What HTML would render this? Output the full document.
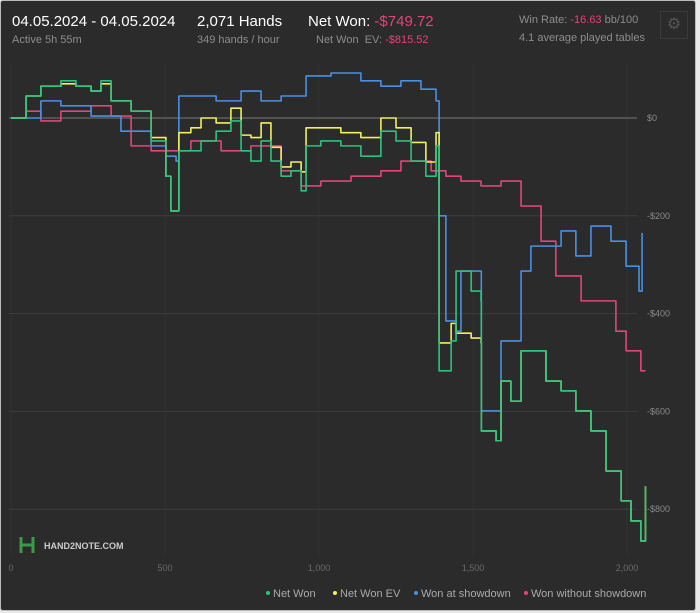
<!DOCTYPE html>
<html><head><meta charset="utf-8"><style>
body{margin:0;background:#e9e9e9;font-family:"Liberation Sans",sans-serif;}
#card{position:absolute;left:0;top:0;width:694px;height:609px;background:#2b2b2b;border:1px solid #bbb;border-radius:3px;overflow:hidden}
.t{position:absolute;white-space:nowrap}
.big{font-size:15px;color:#fff}
.sm{font-size:11px;color:#8d8d8d}
.red{color:#e0457b}
</style></head><body>
<div id="card">
<div class="t big" style="left:11px;top:12px">04.05.2024 - 04.05.2024</div>
<div class="t sm" style="left:11px;top:33px">Active 5h 55m</div>
<div class="t big" style="left:196px;top:12px">2,071 Hands</div>
<div class="t sm" style="left:196px;top:33px">349 hands / hour</div>
<div class="t big" style="left:307px;top:12px">Net Won: <span class="red">-$749.72</span></div>
<div class="t sm" style="left:315px;top:33px">Net Won&nbsp; EV: <span class="red">-$815.52</span></div>
<div class="t sm" style="left:518px;top:13px">Win Rate: <span class="red">-16.63</span> bb/100</div>
<div class="t sm" style="left:518px;top:31px">4.1 average played tables</div>
<div class="t" style="left:659px;top:10px;width:26px;height:26px;border:1px solid #3a3a3a;color:#555;font-size:16px;text-align:center;line-height:26px">⚙</div>
<svg id="ch" width="694" height="609" style="position:absolute;left:0;top:0"></svg>
</div>
<script>
const xTicks=[0,500,1000,1500,2000];
const yTicks=[0,-200,-400,-600,-800];
const netWonH=[0,49,97,162,211,260,292,325,390,455,503,519,542,545,584,617,666,714,747,779,812,844,877,909,942,958,1006,1071,1136,1201,1250,1299,1347,1380,1390,1429,1445,1494,1526,1527,1575,1591,1623,1656,1688,1737,1786,1834,1883,1932,1981,2013,2045,2060];
const netWonV=[0,45,65,76,65,55,76,35,14,-47,-119,-190,-190,-67,-67,-47,-27,-6,-67,-88,-47,-88,-119,-108,-149,-57,-47,-57,-78,-27,-47,-88,-119,-57,-517,-456,-313,-354,-374,-640,-660,-538,-579,-476,-476,-538,-558,-599,-640,-722,-783,-824,-865,-753];
const evH=[0,49,97,162,211,260,292,325,390,455,503,519,542,545,584,617,666,714,747,779,812,844,877,909,942,958,1006,1071,1136,1201,1250,1299,1347,1380,1390,1429,1445,1494,1526,1527,1575,1591,1623,1656,1688,1737,1786,1834,1883,1932,1981,2013,2045,2060];
const evV=[0,45,65,70,65,55,70,35,14,-40,-119,-190,-190,-30,-20,0,-10,20,-35,-40,-10,-60,-100,-90,-110,-20,-20,-30,-40,0,-20,-50,-90,-30,-460,-420,-440,-450,-460,-640,-660,-538,-579,-476,-476,-538,-558,-599,-640,-722,-783,-824,-865,-753];
const sdH=[0,97,162,260,357,455,503,536,545,617,666,747,812,877,942,958,1039,1136,1201,1266,1331,1380,1390,1412,1445,1461,1526,1527,1591,1656,1688,1786,1834,1883,1948,1997,2039,2049];
const sdV=[0,35,25,4,-27,-57,-78,-88,45,45,35,55,35,45,45,86,92,76,65,76,59,35,-200,-415,-436,-313,-313,-599,-456,-313,-262,-231,-282,-221,-252,-303,-354,-235];
const nsdH=[0,49,97,162,260,325,390,455,519,584,682,779,877,942,1006,1104,1201,1266,1364,1412,1461,1526,1591,1656,1721,1769,1818,1851,1916,1964,1997,2045,2060];
const nsdV=[0,14,-6,14,25,4,-57,-67,-67,-47,-67,-57,-108,-139,-129,-119,-108,-88,-108,-119,-129,-139,-129,-180,-252,-323,-323,-374,-374,-436,-476,-517,-517];
const X=h=>10+h*0.308, Y=v=>117-v*0.489;
const ns="http://www.w3.org/2000/svg",svg=document.getElementById('ch');
function mk(t,a){const e=document.createElementNS(ns,t);for(const k in a)e.setAttribute(k,a[k]);svg.appendChild(e);return e;}
for(const t of xTicks){const l=mk('line',{x1:X(t),x2:X(t),y1:62,y2:555,stroke:'#323232',"stroke-width":1});

const tx=mk('text',{x:X(t),y:570,fill:'#6a6a6a','font-size':9,'text-anchor':'middle'});tx.textContent=t.toLocaleString('en-US');
}
for(const t of yTicks){const l=mk('line',{x1:8,x2:636,y1:Y(t),y2:Y(t),stroke:t===0?'#777':'#3d3d3d',"stroke-width":1});

const tx=mk('text',{x:646,y:Y(t)+3,fill:'#8a8a8a','font-size':9});tx.textContent=(t<0?'-$':'$')+Math.abs(t);
}
function series(H,V,c,n){let pts=[];for(let i=0;i<H.length;i++){if(i>0)pts.push(X(H[i])+','+Y(V[i-1]));pts.push(X(H[i])+','+Y(V[i]));}
const p=mk('polyline',{points:pts.join(' '),fill:'none',stroke:c,'stroke-width':1.6,'stroke-linejoin':'round'});
}
series(nsdH,nsdV,'#e0457b','won-without-showdown-line');
series(sdH,sdV,'#4a90e2','won-at-showdown-line');
series(evH,evV,'#f0f060','net-won-ev-line');
series(netWonH,netWonV,'#2ec27e','net-won-line');
const legend=[['Net Won','#2ec27e',272],['Net Won  EV','#f0f060',339],['Won at showdown','#4a90e2',420],['Won without showdown','#e0457b',530]];
for(const [t,c,x] of legend){const d=mk('circle',{cx:x-5,cy:592,r:2,fill:c});
const tx=mk('text',{x:x,y:596,fill:'#aaa','font-size':11,'xml:space':'preserve'});tx.textContent=t;
}
const g=mk('path',{d:'M20 536v16M20 544h12M32 544v-8M32 540v12',stroke:'#3a9a4a','stroke-width':3,fill:'none'});

const lt=mk('text',{x:43,y:548,fill:'#ccc','font-size':9,'font-weight':'bold'});lt.textContent='HAND2NOTE.COM';

</script>
</body></html>
